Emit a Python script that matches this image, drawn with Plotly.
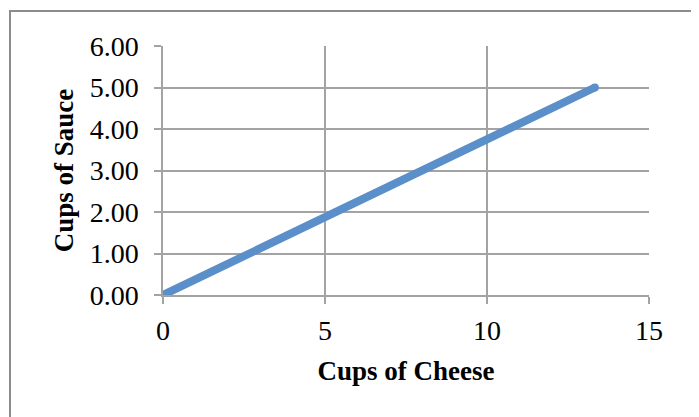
import plotly.graph_objects as go

cheese = [0, 2.67, 5.33, 8.0, 10.67, 13.33]
sauce = [0.0, 1.0, 2.0, 3.0, 4.0, 5.0]
x_ticks = [0, 5, 10, 15]
y_ticks = [0, 1, 2, 3, 4, 5, 6]

line_color = "#5B8FC9"
grid_color = "#A3A3A3"
font_family = "Liberation Serif, DejaVu Serif, serif"

# page body has an 8px default margin; offset layout accordingly
OFF = 8
W, H = 699 - OFF, 417 - OFF
L, T = 163 - OFF, 46 - OFF
PW, PH = 486, 249

fig = go.Figure()
fig.add_trace(go.Scatter(
    x=cheese, y=sauce, mode="lines+markers",
    line=dict(color=line_color, width=8),
    marker=dict(color=line_color, size=[0] * (len(cheese) - 1) + [8],
                line=dict(width=0), opacity=1),
    showlegend=False, cliponaxis=False,
))

fig.update_layout(
    width=W, height=H,
    margin=dict(l=L, r=W - L - PW, t=T, b=H - T - PH, autoexpand=False),
    paper_bgcolor="white", plot_bgcolor="white",
    font=dict(family=font_family, color="black", size=28),
    xaxis=dict(
        range=[0, 15], tickvals=x_ticks, ticktext=[str(v) for v in x_ticks],
        showgrid=True, gridcolor=grid_color, gridwidth=1.5,
        showline=True, linecolor=grid_color, linewidth=1.5,
        ticks="outside", ticklen=7, tickcolor=grid_color, tickwidth=1.5,
        ticklabelstandoff=3, zeroline=False,
        tickfont=dict(size=28),
        title=dict(text="<b>Cups of Cheese</b>", font=dict(size=27), standoff=16),
    ),
    yaxis=dict(
        range=[0, 6], tickvals=y_ticks, ticktext=[f"{v:.2f}" for v in y_ticks],
        showgrid=True, gridcolor=grid_color, gridwidth=1.5,
        showline=True, linecolor=grid_color, linewidth=1.5,
        ticks="outside", ticklen=7, tickcolor=grid_color, tickwidth=1.5,
        ticklabelstandoff=10, zeroline=False,
        tickfont=dict(size=28),
        title=dict(text="<b>Cups of Sauce</b>", font=dict(size=27), standoff=8),
    ),
)

fig.add_shape(type="rect", xref="paper", yref="paper",
              x0=(10 - 163) / PW, x1=(695 - 163) / PW,
              y0=(295 - 430) / PH, y1=(295 - 11) / PH,
              line=dict(color="#8C8C8C", width=2), layer="below")

fig.write_html("out.html")
